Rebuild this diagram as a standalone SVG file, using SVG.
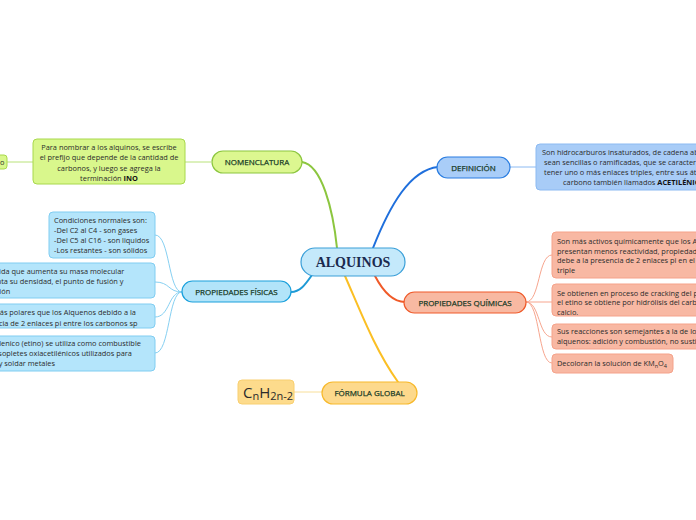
<svg xmlns="http://www.w3.org/2000/svg" width="696" height="520" viewBox="0 0 696 520">
<style>
.t{font-family:"Open Sans","Liberation Sans",sans-serif;font-size:7.4px;fill:#2b2b2b}
.lbl{font-family:"Open Sans","Liberation Sans",sans-serif;font-size:8px;fill:#173a26;stroke:#173a26;stroke-width:0.25;text-anchor:middle}
.c{text-anchor:middle}
.b{font-weight:bold;fill:#111}
.main{fill:none;stroke-width:2;stroke-linecap:round}
.sub{fill:none;stroke-width:1}
.g{fill:#d9f78c;stroke:#a8d84c}
.bl{fill:#a8ccf7;stroke:#8cbaf2}
.cy{fill:#b4e5fb;stroke:#80cdf1}
.or{fill:#f8b8a3;stroke:#f5a28a}
.ye{fill:#fddb8c;stroke:#f8cf70}
</style>
<rect width="696" height="520" fill="#ffffff"/>
<g id="connectors">
<path class="main" stroke="#8cc63f" d="M302,162 C322,165 333,210 337,248"/>
<path class="main" stroke="#1f6fdc" d="M373,248 C390,205 410,170 438,167"/>
<path class="main" stroke="#1e9ad6" d="M312,275 C305,285 300,292 291,292"/>
<path class="main" stroke="#f05a28" d="M375,276 C385,295 395,302 405,302"/>
<path class="main" stroke="#fbbf24" d="M345,276 C360,310 375,350 398,382"/>
<path class="sub" stroke="#b9e27a" d="M7,162 L33,162"/>
<path class="sub" stroke="#b9e27a" d="M185,162 L211,162"/>
<path class="sub" stroke="#8cbaf2" d="M510,167 L536,167"/>
<path class="sub" stroke="#f8df9a" stroke-width="2" d="M294,392 L322,392"/>
<path class="sub" stroke="#86d0f2" d="M182,292 C168,292 170,235 155,235"/>
<path class="sub" stroke="#86d0f2" d="M182,292 C168,292 170,282 155,282"/>
<path class="sub" stroke="#86d0f2" d="M182,292 C168,292 170,317 155,317"/>
<path class="sub" stroke="#86d0f2" d="M182,292 C168,292 170,353 155,353"/>
<path class="sub" stroke="#f7a58e" d="M526,302 C540,302 538,255 552,255"/>
<path class="sub" stroke="#f7a58e" d="M526,302 L552,302"/>
<path class="sub" stroke="#f7a58e" d="M526,302 C540,302 538,337 552,337"/>
<path class="sub" stroke="#f7a58e" d="M526,302 C540,302 538,363 552,363"/>
</g>
<g id="central">
<rect x="301" y="248" width="104" height="28" rx="14" fill="#c4e9fb" stroke="#3a9fd8" stroke-width="1.2"/>
<text x="353" y="267" font-family="'Liberation Serif','DejaVu Serif',serif" font-size="14" font-weight="bold" fill="#1b2a4e" text-anchor="middle">ALQUINOS</text>
</g>
<g id="nomenclatura">
<rect x="212" y="151" width="90" height="22" rx="11" fill="#dcf790" stroke="#8cc63f" stroke-width="1.2"/>
<text class="lbl" x="257" y="165">NOMENCLATURA</text>
</g>
<g id="nomenclatura-texto">
<rect class="g" x="33" y="139" width="152" height="45" rx="4"/>
<text class="t c" x="109" y="150">Para nombrar a los alquinos, se escribe</text>
<text class="t c" x="109" y="160">el prefijo que depende de la cantidad de</text>
<text class="t c" x="109" y="170.5">carbonos, y luego se agrega la</text>
<text class="t c" x="109" y="181">terminación <tspan class="b">INO</tspan></text>
</g>
<g id="nomenclatura-ejemplo">
<rect class="g" x="-20" y="155" width="27" height="14" rx="3"/>
<text class="t" x="0" y="165">o</text>
</g>
<g id="definicion">
<rect x="437" y="157" width="73" height="21" rx="10.5" fill="#a9cdf8" stroke="#2a7de1" stroke-width="1.2"/>
<text class="lbl" x="473.5" y="170.5">DEFINICIÓN</text>
</g>
<g id="definicion-texto">
<rect class="bl" x="536" y="144" width="180" height="46" rx="4"/>
<text class="t" x="542" y="155">Son hidrocarburos insaturados, de cadena abierta</text>
<text class="t" x="544" y="165">sean sencillas o ramificadas, que se caracterizan</text>
<text class="t" x="544" y="175">tener uno o más enlaces triples, entre sus átomos</text>
<text class="t" x="563" y="185">carbono también llamados <tspan class="b">ACETILÉNICOS</tspan></text>
</g>
<g id="fisicas">
<rect x="182" y="281" width="109" height="21" rx="10.5" fill="#b2e4f9" stroke="#1aa0dc" stroke-width="1.2"/>
<text class="lbl" x="236.5" y="294.5">PROPIEDADES FÍSICAS</text>
</g>
<g id="fisicas-1">
<rect class="cy" x="49" y="212" width="106" height="46" rx="4"/>
<text class="t" x="54" y="223">Condiciones normales son:</text>
<text class="t" x="54" y="233">-Del C2 al C4 - son gases</text>
<text class="t" x="54" y="243">-Del C5 al C16 - son liquidos</text>
<text class="t" x="54" y="253">-Los restantes - son sólidos</text>
</g>
<g id="fisicas-2">
<rect class="cy" x="-30" y="263" width="185" height="35" rx="4"/>
<text class="t" x="-23" y="274">A medida que aumenta su masa molecular</text>
<text class="t" x="-23" y="284">aumenta su densidad, el punto de fusión y</text>
<text class="t" x="-23" y="294">ebullición</text>
</g>
<g id="fisicas-3">
<rect class="cy" x="-30" y="304" width="185" height="24" rx="4"/>
<text class="t" x="-22" y="315">Son más polares que los Alquenos debido a la</text>
<text class="t" x="-25" y="325.5">presencia de 2 enlaces pi entre los carbonos sp</text>
</g>
<g id="fisicas-4">
<rect class="cy" x="-30" y="336" width="185" height="35" rx="4"/>
<text class="t" x="-25" y="346">El acetilenico (etino) se utiliza como combustible</text>
<text class="t" x="-24" y="356">en los sopletes oxiacetilénicos utilizados para</text>
<text class="t" x="-24" y="366">cortar y soldar metales</text>
</g>
<g id="quimicas">
<rect x="404" y="292" width="122" height="21" rx="10.5" fill="#f8b9a2" stroke="#ef5a2a" stroke-width="1.2"/>
<text class="lbl" x="465" y="305.5">PROPIEDADES QUÍMICAS</text>
</g>
<g id="quimicas-1">
<rect class="or" x="552" y="232" width="170" height="46" rx="4"/>
<text class="t" x="557" y="244">Son más activos químicamente que los Alquenos</text>
<text class="t" x="557" y="253.5">presentan menos reactividad, propiedad que se</text>
<text class="t" x="557" y="263">debe a la presencia de 2 enlaces pi en el enlace</text>
<text class="t" x="557" y="272.5">triple</text>
</g>
<g id="quimicas-2">
<rect class="or" x="552" y="284" width="170" height="32" rx="4"/>
<text class="t" x="557" y="295.5">Se obtienen en proceso de cracking del petróleo,</text>
<text class="t" x="557" y="305">el etino se obtiene por hidrólisis del carburo de</text>
<text class="t" x="557" y="314.5">calcio.</text>
</g>
<g id="quimicas-3">
<rect class="or" x="552" y="324" width="170" height="25" rx="4"/>
<text class="t" x="557" y="334">Sus reacciones son semejantes a la de los</text>
<text class="t" x="557" y="344">alquenos: adición y combustión, no sustitución</text>
</g>
<g id="quimicas-4">
<rect class="or" x="552" y="354" width="121" height="19" rx="4"/>
<text class="t" x="557" y="366">Decoloran la solución de KM<tspan font-size="5.5" dy="2">n</tspan><tspan dy="-2">O</tspan><tspan font-size="5.5" dy="2">4</tspan></text>
</g>
<g id="formula">
<rect x="322" y="382" width="95" height="22" rx="11" fill="#fdd98c" stroke="#f7b92c" stroke-width="1.2"/>
<text class="lbl" x="369.5" y="396">FÓRMULA GLOBAL</text>
</g>
<g id="formula-texto">
<rect class="ye" x="238" y="380" width="56" height="24" rx="4"/>
<text x="243" y="398" font-family="'Open Sans','Liberation Sans',sans-serif" font-size="15" fill="#2b2b2b">C<tspan font-size="11" dy="2">n</tspan><tspan dy="-2">H</tspan><tspan font-size="11" dy="2">2n-2</tspan></text>
</g>
</svg>
